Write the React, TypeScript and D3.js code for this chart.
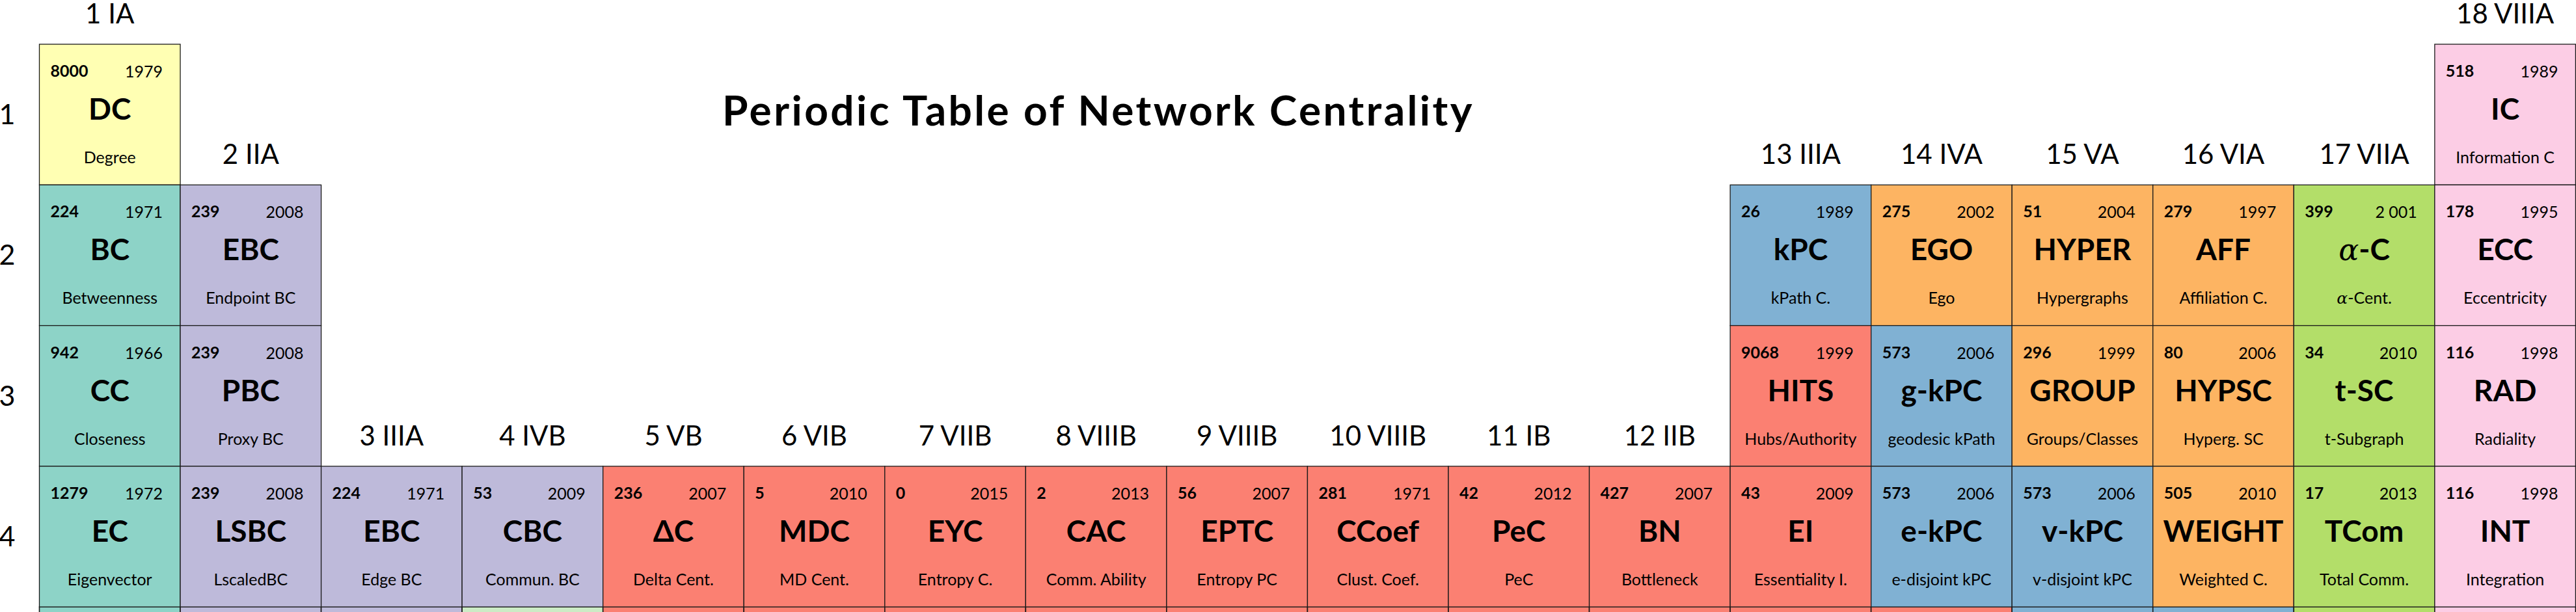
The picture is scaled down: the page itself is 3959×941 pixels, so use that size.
import * as d3 from "d3";

const rowLabels = ["1", "2", "3", "4"];
const groupLabels = [
  "1 IA", "2 IIA", "3 IIIA", "4 IVB", "5 VB", "6 VIB", "7 VIIB", "8 VIIIB", "9 VIIIB",
  "10 VIIIB", "11 IB", "12 IIB", "13 IIIA", "14 IVA", "15 VA", "16 VIA", "17 VIIA", "18 VIIIA",
];

const cellRow = [
  1, 1,
  2, 2, 2, 2, 2, 2, 2, 2,
  3, 3, 3, 3, 3, 3, 3, 3,
  4, 4, 4, 4, 4, 4, 4, 4, 4, 4, 4, 4, 4, 4, 4, 4, 4, 4,
];
const cellCol = [
  1, 18,
  1, 2, 13, 14, 15, 16, 17, 18,
  1, 2, 13, 14, 15, 16, 17, 18,
  1, 2, 3, 4, 5, 6, 7, 8, 9, 10, 11, 12, 13, 14, 15, 16, 17, 18,
];
const cellSymbol = [
  "DC", "IC",
  "BC", "EBC", "kPC", "EGO", "HYPER", "AFF", "α-C", "ECC",
  "CC", "PBC", "HITS", "g-kPC", "GROUP", "HYPSC", "t-SC", "RAD",
  "EC", "LSBC", "EBC", "CBC", "ΔC", "MDC", "EYC", "CAC", "EPTC", "CCoef", "PeC", "BN",
  "EI", "e-kPC", "v-kPC", "WEIGHT", "TCom", "INT",
];
const cellName = [
  "Degree", "Information C",
  "Betweenness", "Endpoint BC", "kPath C.", "Ego", "Hypergraphs", "Affiliation C.", "α-Cent.", "Eccentricity",
  "Closeness", "Proxy BC", "Hubs/Authority", "geodesic kPath", "Groups/Classes", "Hyperg. SC", "t-Subgraph", "Radiality",
  "Eigenvector", "LscaledBC", "Edge BC", "Commun. BC", "Delta Cent.", "MD Cent.", "Entropy C.", "Comm. Ability",
  "Entropy PC", "Clust. Coef.", "PeC", "Bottleneck", "Essentiality I.", "e-disjoint kPC", "v-disjoint kPC",
  "Weighted C.", "Total Comm.", "Integration",
];
const cellCount = [
  "8000", "518",
  "224", "239", "26", "275", "51", "279", "399", "178",
  "942", "239", "9068", "573", "296", "80", "34", "116",
  "1279", "239", "224", "53", "236", "5", "0", "2", "56", "281", "42", "427", "43", "573", "573", "505", "17", "116",
];
const cellYear = [
  "1979", "1989",
  "1971", "2008", "1989", "2002", "2004", "1997", "2 001", "1995",
  "1966", "2008", "1999", "2006", "1999", "2006", "2010", "1998",
  "1972", "2008", "1971", "2009", "2007", "2010", "2015", "2013", "2007", "1971", "2012", "2007", "2009", "2006", "2006", "2010", "2013", "1998",
];
const cellGroup = [
  "degree", "distance",
  "classic", "betweenness", "kpath", "group", "group", "group", "subgraph", "distance",
  "classic", "betweenness", "other", "kpath", "group", "group", "subgraph", "distance",
  "classic", "betweenness", "betweenness", "betweenness", "other", "other", "other", "other", "other", "other", "other", "other",
  "other", "kpath", "kpath", "group", "subgraph", "distance",
];

// row 5 is cut off by the picture edge: only its colours show
const row5Group = [
  "classic", "betweenness", "betweenness", "community", "other", "other", "other", "other", "other",
  "other", "other", "other", "other", "other", "kpath", "kpath", "subgraph", "distance",
];

const groupColor: Record<string, string> = {
  degree: "#ffffb3",
  classic: "#8dd3c7",
  betweenness: "#bebada",
  other: "#fb8072",
  kpath: "#80b1d3",
  group: "#fdb462",
  subgraph: "#b3de69",
  distance: "#fccde5",
  community: "#ccebc5",
};

const W = 3959;
const H = 941;
const FONT = "Lato, 'Open Sans', 'DejaVu Sans', sans-serif";

export default function App() {
  const cell = 216.55;
  const x = d3.scaleLinear().domain([1, 19]).range([60.5, 60.5 + 18 * cell]);
  const y = d3.scaleLinear().domain([1, 6]).range([68, 68 + 5 * 216.3]);

  const cells = cellRow.map((r, i) => ({
    row: r,
    col: cellCol[i],
    symbol: cellSymbol[i],
    name: cellName[i],
    count: cellCount[i],
    year: cellYear[i],
    fill: groupColor[cellGroup[i]],
  }));
  const row5 = row5Group.map((g, i) => ({ row: 5, col: i + 1, fill: groupColor[g] }));

  // group label sits above the topmost cell of each column
  const topRow = d3.range(1, 19).map(
    (c) => d3.min(cells.filter((d) => d.col === c), (d) => d.row) ?? 4
  );

  const renderGreek = (s: string) => {
    if (!s.startsWith("α")) return s;
    return (
      <>
        <tspan fontFamily="'DejaVu Serif', serif" fontStyle="italic" fontWeight="normal">α</tspan>
        {s.slice(1)}
      </>
    );
  };

  return (
    <svg
      width={W}
      height={H}
      style={{ position: "absolute", left: 0, top: 0, background: "#fff" }}
      fontFamily={FONT}
    >
      <text x={1688} y={193} textAnchor="middle" fontSize={64} fontWeight="bold" letterSpacing={3.4} fill="#000">
        Periodic Table of Network Centrality
      </text>

      {rowLabels.map((l, i) => (
        <text key={l} x={11} y={y(i + 1) + 108 + 15} textAnchor="middle" fontSize={43}>
          {l}
        </text>
      ))}

      {groupLabels.map((l, i) => (
        <text
          key={l}
          x={x(i + 1) + cell / 2}
          y={y(topRow[i]) - 32}
          textAnchor="middle"
          fontSize={42}
        >
          {l}
        </text>
      ))}

      {row5.map((d) => (
        <rect
          key={`r5-${d.col}`}
          x={x(d.col)}
          y={y(d.row)}
          width={cell}
          height={y(d.row + 1) - y(d.row)}
          fill={d.fill}
          stroke="#1a1a1a"
          strokeWidth={1.6}
        />
      ))}

      {cells.map((d) => {
        const left = x(d.col);
        const top = y(d.row);
        const h = y(d.row + 1) - top;
        return (
          <g key={`${d.row}-${d.col}`}>
            <rect x={left} y={top} width={cell} height={h} fill={d.fill} stroke="#1a1a1a" strokeWidth={1.3} />
            <text x={left + 17} y={top + 50} fontSize={25} fontWeight="bold">
              {d.count}
            </text>
            <text x={left + cell - 27} y={top + 51} fontSize={25} textAnchor="end">
              {d.year}
            </text>
            <text x={left + cell / 2} y={top + 116} fontSize={46} fontWeight="bold" textAnchor="middle">
              {renderGreek(d.symbol)}
            </text>
            <text x={left + cell / 2} y={top + 183} fontSize={25} textAnchor="middle">
              {renderGreek(d.name)}
            </text>
          </g>
        );
      })}
    </svg>
  );
}
